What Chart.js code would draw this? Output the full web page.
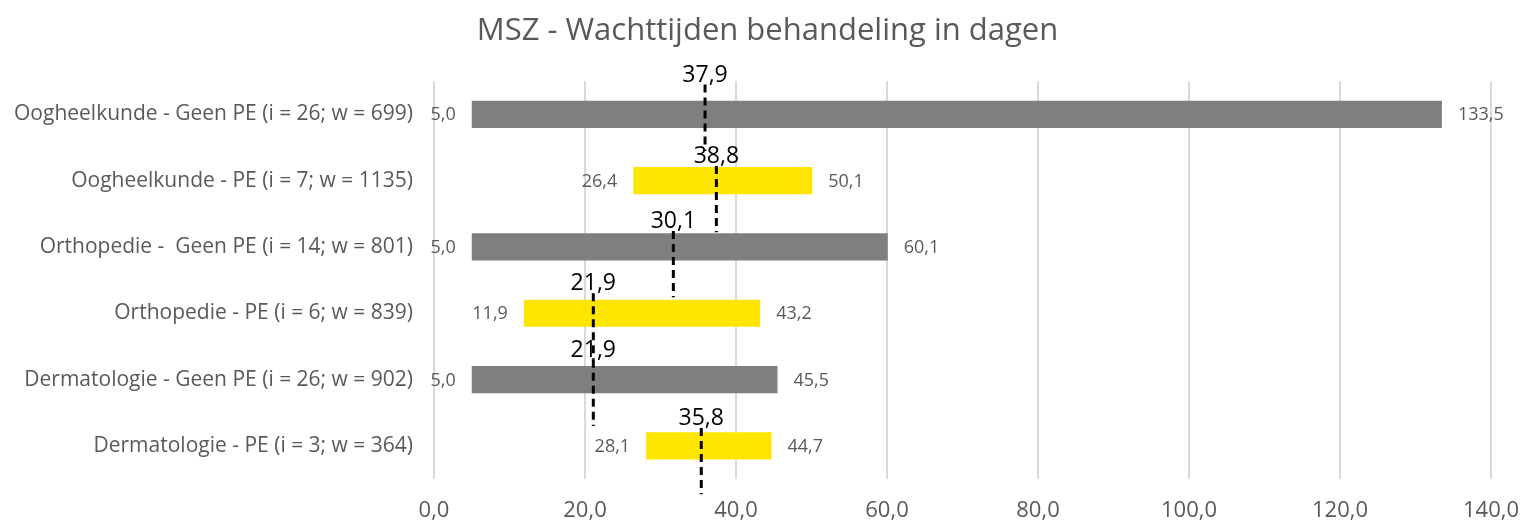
<!DOCTYPE html>
<html>
<head>
<meta charset="utf-8">
<script src="https://cdn.jsdelivr.net/npm/chart.js@4.4.1/dist/chart.umd.min.js"></script>
<style>
  html, body { margin: 0; padding: 0; background: #ffffff; }
  #wrap { width: 1525px; height: 520px; }
</style>
</head>
<body>
<div id="wrap"><canvas id="c" width="1525" height="520"></canvas></div>
<script>
// ---- data ----
const categories = [
  "Oogheelkunde - Geen PE (i = 26; w = 699)",
  "Oogheelkunde - PE (i = 7; w = 1135)",
  "Orthopedie -  Geen PE (i = 14; w = 801)",
  "Orthopedie - PE (i = 6; w = 839)",
  "Dermatologie - Geen PE (i = 26; w = 902)",
  "Dermatologie - PE (i = 3; w = 364)"
];
const groups = ["Geen PE", "PE", "Geen PE", "PE", "Geen PE", "PE"];
const minValues = [5.0, 26.4, 5.0, 11.9, 5.0, 28.1];
const maxValues = [133.5, 50.1, 60.1, 43.2, 45.5, 44.7];
const medianLabels = [37.9, 38.8, 30.1, 21.9, 21.9, 35.8];
// where the reference actually draws the dashed median markers
const medianDrawn = [35.9, 37.4, 31.7, 21.1, 21.1, 35.4];
const xTicks = [0, 20, 40, 60, 80, 100, 120, 140];

// ---- layout / style ----
const segStart = [-0.45, 0.78, 1.76, 2.70, 3.70, 4.73]; // top of each dashed marker (category units)
const segLen = 1.0;
const groupColor = { "Geen PE": "#7f7f7f", "PE": "#ffe600" };
const textGrey = "#595959";
const FONT = "'Open Sans', sans-serif";

const fmt = v => v.toFixed(1).replace('.', ',');

const barData = minValues.map((m, i) => [m, maxValues[i]]);

const medianSets = medianDrawn.map((m, i) => ({
  type: 'line',
  label: 'mediaan ' + i,
  data: [{ x: m, y: segStart[i] }, { x: m, y: segStart[i] + segLen }],
  xAxisID: 'x',
  yAxisID: 'yM',
  borderColor: '#000000',
  borderWidth: 3,
  borderDash: [8, 5],
  pointRadius: 0,
  fill: false,
  clip: false,
  order: 1
}));

const labelPlugin = {
  id: 'labels',
  afterDatasetsDraw(chart) {
    const ctx = chart.ctx;
    const xs = chart.scales.x, ys = chart.scales.y, ym = chart.scales.yM;
    ctx.save();
    ctx.textBaseline = 'middle';
    ctx.font = "18px " + FONT;
    ctx.fillStyle = textGrey;
    categories.forEach((c, i) => {
      const y = ys.getPixelForValue(i);
      ctx.textAlign = 'right';
      ctx.fillText(fmt(minValues[i]), xs.getPixelForValue(minValues[i]) - 16, y + 1);
      ctx.textAlign = 'left';
      ctx.fillText(fmt(maxValues[i]), xs.getPixelForValue(maxValues[i]) + 16, y + 1);
    });
    ctx.font = "23px " + FONT;
    ctx.fillStyle = '#000000';
    ctx.textAlign = 'center';
    ctx.textBaseline = 'bottom';
    medianLabels.forEach((v, i) => {
      const x = xs.getPixelForValue(medianDrawn[i]);
      const y = ym.getPixelForValue(segStart[i]);
      ctx.fillText(fmt(v), x, y + 2);
    });
    ctx.restore();
  }
};

new Chart(document.getElementById('c'), {
  type: 'bar',
  data: {
    labels: categories,
    datasets: [{
      label: 'bereik',
      data: barData,
      backgroundColor: groups.map(g => groupColor[g]),
      borderWidth: 0,
      grouped: false,
      categoryPercentage: 1.0,
      barPercentage: 0.41,
      order: 2,
      xAxisID: 'x',
      yAxisID: 'y'
    }, ...medianSets]
  },
  options: {
    indexAxis: 'y',
    responsive: false,
    animation: false,
    layout: { padding: { left: 10, right: 0, top: 0, bottom: 0 } },
    plugins: {
      legend: { display: false },
      tooltip: { enabled: false },
      title: {
        display: true,
        text: 'MSZ - Wachttijden behandeling in dagen',
        color: textGrey,
        font: { family: FONT, size: 31, weight: 'normal' },
        padding: { top: 13, bottom: 31 }
      }
    },
    scales: {
      x: {
        type: 'linear',
        min: 0,
        max: 140,
        afterBuildTicks(scale) { scale.ticks = xTicks.map(v => ({ value: v })); },
        ticks: {
          color: textGrey,
          font: { family: FONT, size: 22 },
          padding: 19,
          callback: v => fmt(v)
        },
        grid: { color: '#d9d9d9', lineWidth: 2, drawTicks: false },
        border: { display: false },
        afterFit(scale) {
          scale.height = 41;
          scale.paddingLeft = 0;
          scale.paddingRight = 34;
        }
      },
      y: {
        type: 'category',
        offset: true,
        ticks: {
          color: textGrey,
          font: { family: FONT, size: 21 },
          padding: 13
        },
        grid: { display: false },
        border: { display: false },
        afterFit(scale) { scale.width = 424; }
      },
      yM: {
        type: 'linear',
        display: false,
        offset: false,
        bounds: 'data',
        grid: { offset: false },
        min: -0.5,
        max: 5.5,
        reverse: true
      }
    }
  },
  plugins: [labelPlugin]
});
</script>
</body>
</html>
